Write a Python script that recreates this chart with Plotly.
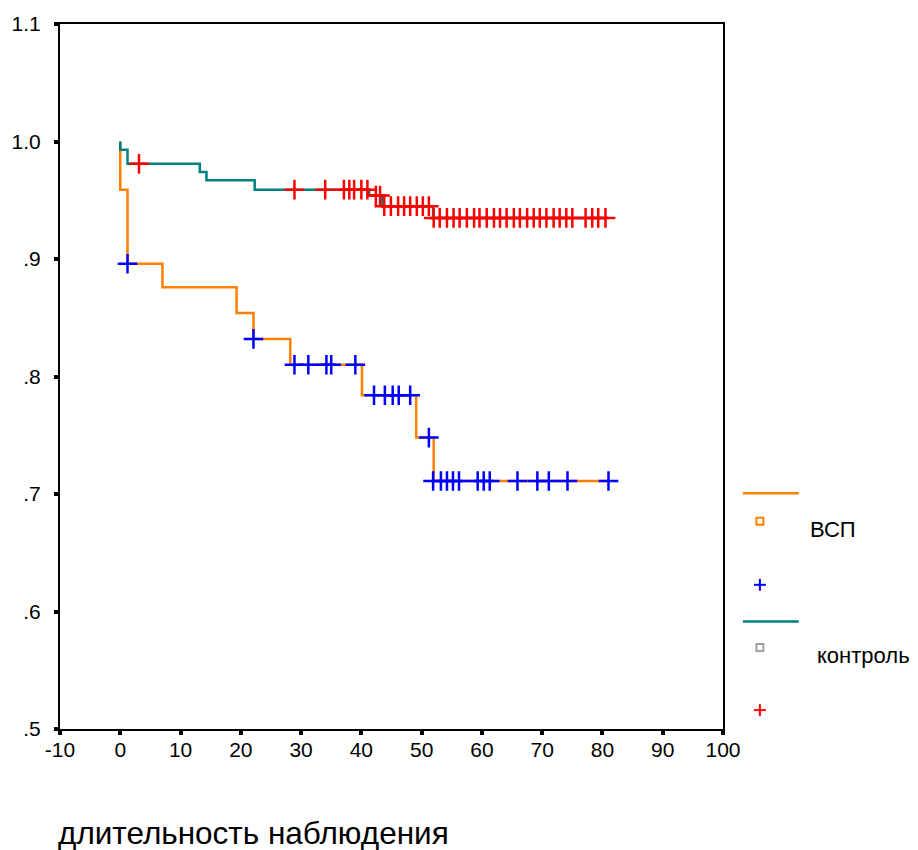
import plotly.graph_objects as go

# ---------------- data ----------------
# step curves (time, cumulative survival)
vsp_t = [0, 0, 1.2, 7.0, 19.3, 22.1, 28.2, 40.1, 49.1, 52.0, 81.0]
vsp_s = [1.0, 0.959, 0.896, 0.876, 0.854, 0.832, 0.810, 0.784, 0.748, 0.711, 0.711]

ctrl_t = [0, 0, 1.2, 13.2, 14.3, 22.3, 41.3, 43.4, 51.9, 80.5]
ctrl_s = [1.0, 0.993, 0.981, 0.974, 0.967, 0.959, 0.954, 0.945, 0.935, 0.935]

# censored observations
vsp_cens_t = [1.2, 22.1, 28.9, 31.2, 34.2, 35.0, 39.0,
               42.1, 43.9, 45.2, 46.2, 48.1, 51.2,
               51.9, 53.2, 54.2, 55.2, 56.2, 59.3, 60.3, 61.3, 65.9, 69.2, 71.1, 74.2, 81.0]
vsp_cens_s = [0.896, 0.832, 0.810, 0.810, 0.810, 0.810, 0.810,
              0.784, 0.784, 0.784, 0.784, 0.784, 0.748,
              0.711, 0.711, 0.711, 0.711, 0.711, 0.711, 0.711, 0.711, 0.711, 0.711, 0.711, 0.711, 0.711]

ctrl_cens_t = [3.1, 28.9, 34.0, 37.1, 38.0, 38.8, 40.0, 41.0,
               42.4, 43.1,
               43.8, 44.9, 46.1, 47.1, 48.1, 49.2, 50.2, 51.2,
               52.0, 53.0, 54.2, 55.3, 56.3, 57.5, 58.7, 59.6, 60.8, 62.0, 63.0, 64.1, 65.3,
               66.3, 67.5, 68.6, 69.6, 70.7, 71.9, 72.9, 74.0, 75.0, 77.2, 78.3, 79.3, 80.5]
ctrl_cens_s = ([0.981] + [0.959] * 7 + [0.954] * 2 + [0.945] * 8 + [0.935] * 26)

x_ticks = [-10, 0, 10, 20, 30, 40, 50, 60, 70, 80, 90, 100]
x_tick_text = ["-10", "0", "10", "20", "30", "40", "50", "60", "70", "80", "90", "100"]
y_ticks = [0.5, 0.6, 0.7, 0.8, 0.9, 1.0, 1.1]
y_tick_text = [".5", ".6", ".7", ".8", ".9", "1.0", "1.1"]

groups = ["ВСП", "контроль"]
x_title = "длительность наблюдения"

ORANGE = "#FF8000"
TEAL = "#008080"
BLUE = "#0000FF"
RED = "#FF0000"
FONT = "Liberation Sans, Arial, sans-serif"

fig = go.Figure()
fig.add_trace(go.Scatter(x=vsp_t, y=vsp_s, mode="lines", line=dict(color=ORANGE, width=2.5, shape="hv"),
                         showlegend=False, hoverinfo="skip"))
fig.add_trace(go.Scatter(x=ctrl_t, y=ctrl_s, mode="lines", line=dict(color=TEAL, width=2.5, shape="hv"),
                         showlegend=False, hoverinfo="skip"))
fig.add_trace(go.Scatter(x=vsp_cens_t, y=vsp_cens_s, mode="markers",
                         marker=dict(symbol="cross-thin", size=14, line=dict(color=BLUE, width=2.5)),
                         showlegend=False, hoverinfo="skip"))
fig.add_trace(go.Scatter(x=ctrl_cens_t, y=ctrl_cens_s, mode="markers",
                         marker=dict(symbol="cross-thin", size=14, line=dict(color=RED, width=2.5)),
                         showlegend=False, hoverinfo="skip"))

L, R, T, B = 58, 723, 20, 729
W, H = 918, 850


def xp(px):
    return (px - L) / (R - L)


def yp(py):
    return (B - py) / (B - T)


shapes = []
annotations = []
# legend lines
shapes.append(dict(type="line", xref="paper", yref="paper", x0=xp(743), x1=xp(799), y0=yp(492), y1=yp(492),
                   line=dict(color=ORANGE, width=2.5)))
shapes.append(dict(type="line", xref="paper", yref="paper", x0=xp(743), x1=xp(799), y0=yp(621), y1=yp(621),
                   line=dict(color=TEAL, width=2.5)))
# legend squares
for cy, col in [(520, ORANGE), (647, "#A0A0A0")]:
    shapes.append(dict(type="rect", xref="paper", yref="paper", x0=xp(756.5), x1=xp(763.5),
                       y0=yp(cy + 3.5), y1=yp(cy - 3.5), line=dict(color=col, width=2)))
# legend crosses
for cy, col in [(584, BLUE), (710, RED)]:
    shapes.append(dict(type="line", xref="paper", yref="paper", x0=xp(754), x1=xp(766), y0=yp(cy), y1=yp(cy),
                       line=dict(color=col, width=2)))
    shapes.append(dict(type="line", xref="paper", yref="paper", x0=xp(760), x1=xp(760), y0=yp(cy - 6), y1=yp(cy + 6),
                       line=dict(color=col, width=2)))

annotations.append(dict(text=groups[0], xref="paper", yref="paper", x=xp(808), y=yp(528), xanchor="left",
                        yanchor="middle", showarrow=False, font=dict(family=FONT, size=22, color="black")))
annotations.append(dict(text=groups[1], xref="paper", yref="paper", x=xp(815), y=yp(655), xanchor="left",
                        yanchor="middle", showarrow=False, font=dict(family=FONT, size=22, color="black")))
annotations.append(dict(text=x_title, xref="paper", yref="paper", x=xp(54), y=yp(834), xanchor="left",
                        yanchor="middle", showarrow=False, font=dict(family=FONT, size=31.5, color="black")))

fig.update_layout(
    width=W, height=H,
    margin=dict(l=L, r=W - R, t=T, b=H - B, pad=0),
    plot_bgcolor="white", paper_bgcolor="white",
    font=dict(family=FONT, size=21, color="black"),
    shapes=shapes, annotations=annotations,
    showlegend=False,
)
fig.update_xaxes(range=[-10, 100], tickvals=x_ticks, ticktext=x_tick_text, ticks="outside", ticklen=4, tickwidth=4,
                 tickcolor="black", showline=True, linecolor="black", linewidth=2, mirror=True, showgrid=False,
                 zeroline=False, ticklabelstandoff=-3)
fig.update_yaxes(range=[0.5, 1.1], tickvals=y_ticks, ticktext=y_tick_text, ticks="outside", ticklen=4, tickwidth=4,
                 tickcolor="black", showline=True, linecolor="black", linewidth=2, mirror=True, showgrid=False,
                 zeroline=False, ticklabelstandoff=9)

fig.write_html("out.html", config={"displayModeBar": False},
               post_script="document.body.style.margin='0';document.body.style.overflow='hidden';")
